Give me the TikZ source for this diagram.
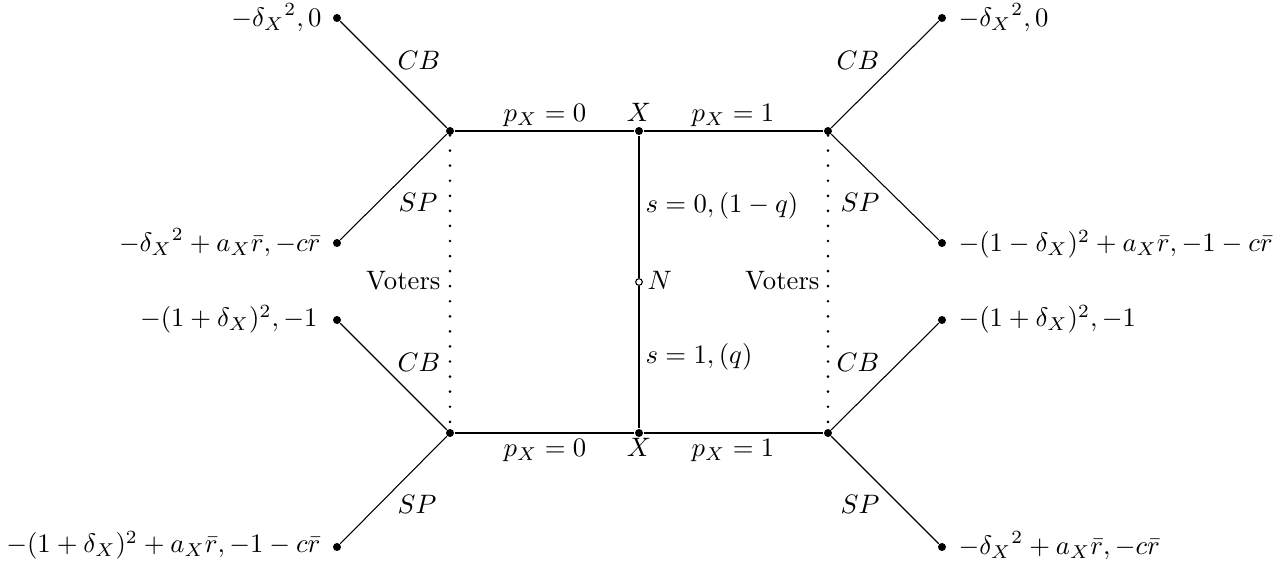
\documentclass[tikz,border=0pt]{standalone}
\begin{document}
\begin{tikzpicture}[x=0.375pt,y=-0.375pt,
  dot/.style={circle,fill=black,inner sep=0pt,minimum size=3pt},
  odot/.style={circle,draw=black,fill=white,line width=0.4pt,inner sep=0pt,minimum size=2.5pt},
  branch/.style={line width=0.4pt},
  infoset/.style={line width=1.1pt,dash pattern=on 0pt off 5.65pt,line cap=round},
  lbl/.style={inner sep=0pt,anchor=base},
  lblE/.style={inner sep=0pt,anchor=base east},
  lblW/.style={inner sep=0pt,anchor=base west}]
\useasboundingbox (0,0) rectangle (1288,567);
% decision nodes
\node[dot] (L1) at (450,131) {};
\node[dot] (X1) at (639,131) {};
\node[dot] (R1) at (828,131) {};
\node[odot] (N) at (639,282) {};
\node[dot] (L2) at (450,433) {};
\node[dot] (X2) at (639,433) {};
\node[dot] (R2) at (828,433) {};
% terminals
\node[dot] (tlc) at (337,18) {};
\node[dot] (tls) at (337,243) {};
\node[dot] (blc) at (337,320) {};
\node[dot] (bls) at (337,547) {};
\node[dot] (trc) at (942,18) {};
\node[dot] (trs) at (942,243) {};
\node[dot] (brc) at (942,320) {};
\node[dot] (brs) at (942,547) {};
% branches
\draw[branch] (L1) -- (X1) -- (R1);
\draw[branch] (L2) -- (X2) -- (R2);
\draw[branch] (X1) -- (N) -- (X2);
\draw[branch] (L1) -- (tlc);
\draw[branch] (L1) -- (tls);
\draw[branch] (L2) -- (blc);
\draw[branch] (L2) -- (bls);
\draw[branch] (R1) -- (trc);
\draw[branch] (R1) -- (trs);
\draw[branch] (R2) -- (brc);
\draw[branch] (R2) -- (brs);
% information sets
\draw[infoset] (L1) -- (L2);
\draw[infoset] (R1) -- (R2);
% centre labels
\node[lbl] (p1) at (545,122) {$p_X=0$};
\node[lbl] (x1) at (639,122) {$X$};
\node[lbl] (p2) at (733,122) {$p_X=1$};
\node[lbl] (p3) at (545,457) {$p_X=0$};
\node[lbl] (x2) at (639,457) {$X$};
\node[lbl] (p4) at (733,457) {$p_X=1$};
\node[lblW] (s0) at (645,213) {$s=0,(1-q)$};
\node[lblW] (s1) at (645,364) {$s=1,(q)$};
\node[lblW] (nl) at (647,290) {$N$};
\node[lblE] (v1) at (441,290) {Voters};
\node[lblE] (v2) at (820,290) {Voters};
% action labels
\node[lbl] (cb1) at (419,70) {$CB$};
\node[lbl] (sp1) at (418,212) {$SP$};
\node[lbl] (cb2) at (419,372) {$CB$};
\node[lbl] (sp2) at (417,514) {$SP$};
\node[lbl] (cb3) at (858,70) {$CB$};
\node[lbl] (sp3) at (860,212) {$SP$};
\node[lbl] (cb4) at (858,372) {$CB$};
\node[lbl] (sp4) at (860,514) {$SP$};
% payoffs
\node[lblE] (u1) at (322,27) {$-{\delta_X}^2,0$};
\node[lblE] (u2) at (321,252) {$-{\delta_X}^2+a_X\bar{r},-c\bar{r}$};
\node[lblE] (u3) at (318,327) {$-(1+\delta_X)^2,-1$};
\node[lblE] (u4) at (321,553) {$-(1+\delta_X)^2+a_X\bar{r},-1-c\bar{r}$};
\node[lblW] (u5) at (958,27) {$-{\delta_X}^2,0$};
\node[lblW] (u6) at (958,252) {$-(1-\delta_X)^2+a_X\bar{r},-1-c\bar{r}$};
\node[lblW] (u7) at (958,327) {$-(1+\delta_X)^2,-1$};
\node[lblW] (u8) at (958,555) {$-{\delta_X}^2+a_X\bar{r},-c\bar{r}$};
\end{tikzpicture}
\end{document}
